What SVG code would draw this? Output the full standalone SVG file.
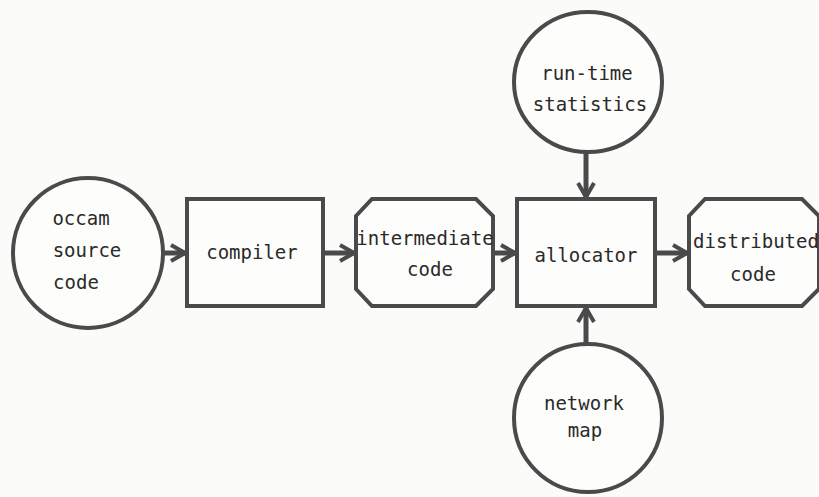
<svg xmlns="http://www.w3.org/2000/svg" width="819" height="497" viewBox="0 0 819 497">
<defs>
<style>
.bg{fill:#fbfbf9}
.n{fill:#fdfdfb;stroke:#4a4a4a;stroke-width:4}
.t{font-family:"DejaVu Sans Mono","Liberation Mono",monospace;font-size:19px;fill:#2a2a2a;text-anchor:middle}
.c{stroke:#4a4a4a;stroke-width:5;fill:none}
</style>
<marker id="ah" viewBox="0 0 10 10" refX="9" refY="5" markerWidth="4" markerHeight="4" orient="auto" markerUnits="strokeWidth">
<path d="M2,1 L9,5 L2,9" fill="none" stroke="#4a4a4a" stroke-width="2"/>
</marker>
</defs>
<rect class="bg" x="0" y="0" width="819" height="497"/>
<g id="occam">
<circle class="n" cx="88" cy="253" r="75"/>
<text class="t" x="81" y="225">occam</text>
<text class="t" x="87" y="257">source</text>
<text class="t" x="76" y="289">code</text>
</g>
<g id="compiler">
<rect class="n" x="187" y="199" width="136" height="107"/>
<text class="t" x="252" y="259">compiler</text>
</g>
<g id="intermediate">
<path class="n" d="M372,199 L476,199 L493,216 L493,289 L476,306 L372,306 L356,289 L356,216 Z"/>
<text class="t" x="425" y="245">intermediate</text>
<text class="t" x="430" y="276">code</text>
</g>
<g id="allocator">
<rect class="n" x="517" y="199" width="138" height="107"/>
<text class="t" x="586" y="262">allocator</text>
</g>
<g id="distributed">
<path class="n" d="M705,199 L802,199 L819,216 L819,289 L802,306 L705,306 L689,289 L689,216 Z"/>
<text class="t" x="756" y="248">distributed</text>
<text class="t" x="753" y="281">code</text>
</g>
<g id="runtime">
<ellipse class="n" cx="588" cy="82" rx="74" ry="70"/>
<text class="t" x="587" y="80">run-time</text>
<text class="t" x="590" y="111">statistics</text>
</g>
<g id="network">
<circle class="n" cx="588" cy="418" r="74"/>
<text class="t" x="584" y="410">network</text>
<text class="t" x="585" y="437">map</text>
</g>
<g id="connectors">
<line class="c" x1="163" y1="253" x2="185" y2="253" marker-end="url(#ah)"/>
<line class="c" x1="323" y1="253" x2="354" y2="253" marker-end="url(#ah)"/>
<line class="c" x1="493" y1="253" x2="515" y2="253" marker-end="url(#ah)"/>
<line class="c" x1="655" y1="253" x2="687" y2="253" marker-end="url(#ah)"/>
<line class="c" x1="586" y1="152" x2="586" y2="197" marker-end="url(#ah)"/>
<line class="c" x1="586" y1="344" x2="586" y2="308" marker-end="url(#ah)"/>
</g>
</svg>
